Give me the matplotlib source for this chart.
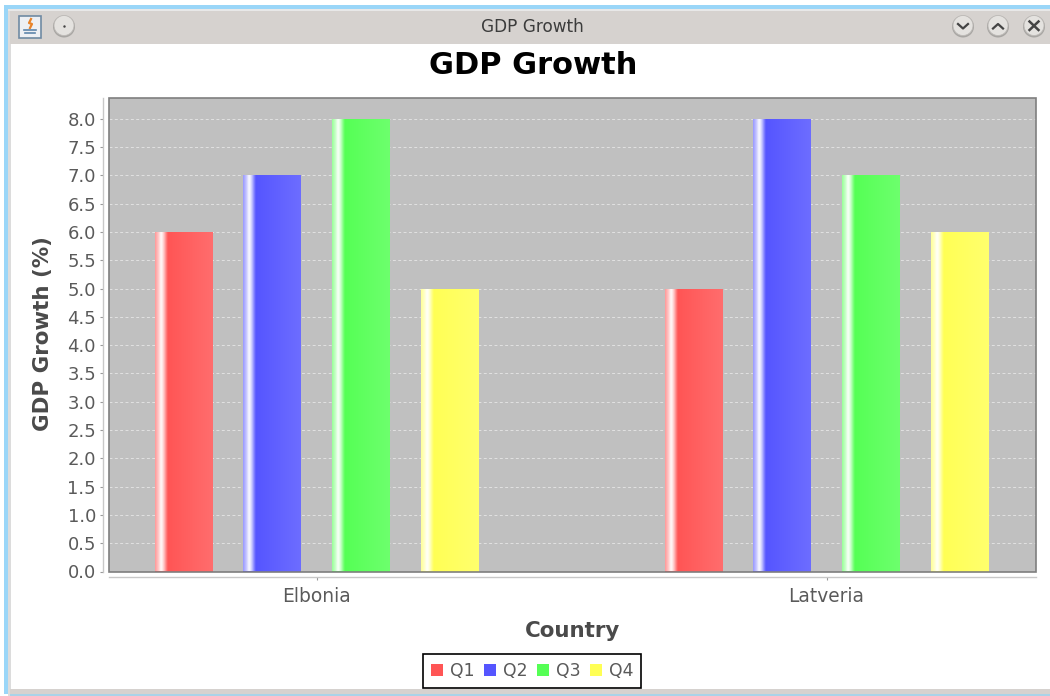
import numpy as np
import matplotlib
matplotlib.use('Agg')
import matplotlib.pyplot as plt
from matplotlib.colors import LinearSegmentedColormap
from matplotlib.patches import Rectangle, Circle, Patch

countries = ['Elbonia', 'Latveria']
quarters = ['Q1', 'Q2', 'Q3', 'Q4']
q1 = [6.0, 5.0]
q2 = [7.0, 8.0]
q3 = [8.0, 7.0]
q4 = [5.0, 6.0]
series = [q1, q2, q3, q4]
yticks = [i * 0.5 for i in range(17)]
window_title = 'GDP Growth'
chart_title = 'GDP Growth'
xlabel = 'Country'
ylabel = 'GDP Growth (%)'

colors = ['#ff5555', '#5555ff', '#55ff55', '#ffff55']
W, H = 1050, 696
TEXT = '#5a5a5a'


def lighter(c, f):
    rgb = np.array(matplotlib.colors.to_rgb(c))
    return tuple(rgb + (1 - rgb) * f)


def bar_cmap(c):
    # same look as the jfreechart gradient painter
    stops = [(0.0, lighter(c, 0.4)), (0.07, lighter(c, 0.75)), (0.10, lighter(c, 0.97)),
             (0.13, lighter(c, 0.85)), (0.22, c), (0.65, lighter(c, 0.08)),
             (1.0, lighter(c, 0.14))]
    return LinearSegmentedColormap.from_list('bar', stops)


fig = plt.figure(figsize=(W / 100, H / 100), dpi=100, facecolor='white')

# window frame in pixel coordinates
bg = fig.add_axes([0, 0, 1, 1], zorder=0)
bg.set_xlim(0, W)
bg.set_ylim(H, 0)
bg.axis('off')
bg.add_patch(Rectangle((4, 5), W - 4, 4, fc='#9ad6f8', ec='none'))
bg.add_patch(Rectangle((4, 5), 4, H - 7, fc='#9ad6f8', ec='none'))
bg.add_patch(Rectangle((8, 9), 3, H - 9, fc='#dcdcdc', ec='none'))
bg.add_patch(Rectangle((8, 9), W - 8, 2, fc='#e8e8e8', ec='none'))
bg.add_patch(Rectangle((10, 11), W - 10, 33, fc='#d6d2cf', ec='none'))
bg.add_patch(Rectangle((10, 689), W - 10, 5, fc='#d6d2cf', ec='none'))
bg.add_patch(Rectangle((10, 694), W - 10, 2, fc='#a9d3e8', ec='none'))
bg.text(532, 27.5, window_title, fontsize=12.2, color='#3c3c3c', ha='center', va='center')

# java icon
bg.add_patch(Rectangle((19, 15.5), 22, 22, fc='#eef0f4', ec='#6f8aa3', lw=1.2))
bg.plot([31, 29, 32, 30], [19, 23, 24, 28], color='#e8832a', lw=1.6)
bg.plot([24, 36], [30, 30], color='#5f86ab', lw=1.2)
bg.plot([25, 35], [33, 33], color='#5f86ab', lw=1.2)

# window buttons
for cx in [64, 963, 998, 1034]:
    bg.add_patch(Circle((cx, 26.5), 11, fc='#a8a6a3', ec='none'))
    bg.add_patch(Circle((cx, 25.5), 10, fc='#e4e2df', ec='#bdbab7', lw=0.6))
bg.plot([64], [25.5], marker='.', ms=1.5, color='#444444')
bg.plot([958, 963, 968], [24, 28.5, 24], color='#444444', lw=1.6)
bg.plot([993, 998, 1003], [28.5, 24, 28.5], color='#444444', lw=1.6)
bg.plot([1029.5, 1038.5], [21.5, 30], color='#444444', lw=1.8)
bg.plot([1029.5, 1038.5], [30, 21.5], color='#444444', lw=1.8)

# plot area
left, right, top, bottom = 108.5, 1036, 97.5, 571.5
ax = fig.add_axes([left / W, 1 - bottom / H, (right - left) / W, (bottom - top) / H], zorder=1)
ax.set_facecolor('#c0c0c0')
unit = 510.0
ymax = 8.375
xlim = ((left - 316.6) / unit, (right - 316.6) / unit)

width = 58 / unit
step = 88.7 / unit
xpos = np.arange(len(countries))
gradient = np.linspace(0, 1, 240).reshape(1, -1)

for i, vals in enumerate(series):
    offset = (i - 1.5) * step
    bars = ax.bar(xpos + offset, vals, width=width, color=colors[i], zorder=2)
    for b in bars:
        x0, w, h = b.get_x(), b.get_width(), b.get_height()
        im = ax.imshow(gradient, extent=[x0, x0 + w, 0, h], aspect='auto',
                       cmap=bar_cmap(colors[i]), interpolation='bilinear', zorder=3)
        im.set_clip_path(b)
ax.set_xlim(*xlim)
ax.set_ylim(0, ymax)

ax.set_yticks(yticks)
ax.set_yticklabels(['%.1f' % t for t in yticks])
ax.set_xticks(xpos)
ax.set_xticklabels(countries)
ax.yaxis.grid(True, color='#e2e2e2', lw=0.7, ls=(0, (3, 2.5)), zorder=1)
ax.set_axisbelow(True)
ax.tick_params(axis='y', labelsize=13, labelcolor=TEXT, color='#999999', length=2.5, width=0.8, pad=2.5)
ax.tick_params(axis='x', labelsize=13.4, labelcolor=TEXT, color='#999999', length=2.5, width=0.8, pad=5)

for s in ['top', 'right']:
    ax.spines[s].set_visible(False)
for s in ['left', 'bottom']:
    ax.spines[s].set_color('#c8c8c8')
    ax.spines[s].set_linewidth(1.0)
ax.spines['left'].set_position(('outward', 4))
ax.spines['bottom'].set_position(('outward', 4))
ax.add_patch(Rectangle((0, 0), 1, 1, transform=ax.transAxes, fc='none', ec='#7f7f7f',
                       lw=1.2, zorder=5, clip_on=False))

fig.text(533 / W, 1 - 66 / H, chart_title, fontsize=22, fontweight='bold', color='black',
         ha='center', va='center')
fig.text(43 / W, 1 - 334 / H, ylabel, fontsize=15.4, fontweight='bold', color='#4a4a4a',
         rotation=90, ha='center', va='center')
fig.text(572 / W, 1 - 631 / H, xlabel, fontsize=15.4, fontweight='bold', color='#4a4a4a',
         ha='center', va='center')

handles = [Patch(fc=c, ec='none', label=q) for c, q in zip(colors, quarters)]
leg = fig.legend(handles=handles, loc='center', bbox_to_anchor=(532 / W, 1 - 671 / H),
                 ncol=4, frameon=True, fontsize=12.4, labelcolor=TEXT, fancybox=False,
                 edgecolor='black', framealpha=1, handlelength=0.7, handleheight=0.7,
                 handletextpad=0.4, columnspacing=0.55, borderpad=0.45, borderaxespad=0)
leg.get_frame().set_linewidth(1.2)

fig.savefig('out.png', dpi=100)
